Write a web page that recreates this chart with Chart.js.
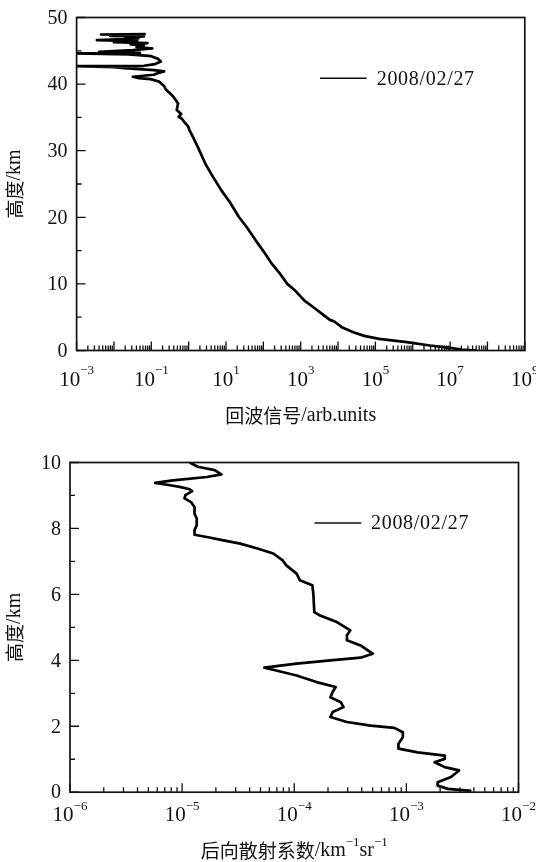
<!DOCTYPE html>
<html>
<head>
<meta charset="utf-8">
<script src="https://cdn.jsdelivr.net/npm/chart.js@4.4.1/dist/chart.umd.min.js"></script>
<style>
	html, body { margin: 0; padding: 0; background: #fff; }
	canvas { display: block; }
</style>
</head>
<body>
<canvas id="echo" width="536" height="431"></canvas>
<canvas id="backscatter" width="536" height="431"></canvas>
<script>
// upper panel: echo signal vs height
const topHeight = [47.5, 47.45, 47.35, 47.25, 47.15, 47.0, 46.85, 46.6, 46.45, 46.3,
	46.15, 45.95, 45.8, 45.6, 45.35, 45.1, 44.85, 44.7, 44.62, 44.45,
	44.2, 43.8, 43.4, 43.0, 42.75, 42.7, 42.55, 42.4, 42.1, 41.9,
	41.6, 41.4, 41.1, 40.9, 40.75, 40.4, 39.7, 39.2, 38.6, 38.1,
	37.6, 37.1, 36.6, 36.1, 35.5, 35.1, 34.8, 34.2, 33.6, 33.1,
	32.0, 30.5, 28.0, 26.0, 24.0, 22.3, 20.0, 18.5, 16.5, 15.0,
	13.0, 11.5, 10.0, 9.0, 7.5, 6.5, 5.5, 4.6, 4.45, 4.35,
	3.5, 2.75, 2.2, 1.75, 1.25, 0.75, 0.4, 0.15, 0.0];
const topSignal = [7.1e-2, 4.5e-3, 5.6e-2, 7.9e-3, 6.3e-2, 2.0e-2, 4.5e-2, 3.5e-3, 4.2e-2, 1.0e-2,
	7.9e-2, 2.8e-2, 6.3e-2, 4.0e-2, 1.07e-1, 3.2e-2, 4.0e-3, 5.0e-2, 6.3e-4, 2.5e-2,
	1.0e-1, 1.5e-1, 1.8e-1, 1.26e-1, 6.3e-2, 6.3e-4, 1.0e-2, 1.9e-2, 1.17e-1, 2.2e-1,
	1.4e-1, 1.17e-1, 3.2e-2, 4.7e-2, 9.5e-2, 1.6e-1, 2.2e-1, 2.45e-1, 3.2e-1, 3.9e-1,
	4.5e-1, 5.2e-1, 5.0e-1, 4.8e-1, 6.3e-1, 5.4e-1, 6.6e-1, 7.9e-1, 9.8e-1, 1.05,
	1.32, 1.78, 2.82, 4.57, 7.6, 12.6, 22.4, 36, 63, 98,
	170, 282, 437, 708, 1260, 2190, 3720, 6030, 7240, 7940,
	12600, 25700, 50100, 126000, 692000, 2.9e6, 1.0e7, 2.0e7, 5.0e7];
const topXTickExps = [-3, -2, -1, 0, 1, 2, 3, 4, 5, 6, 7, 8, 9];
const topXLabelExps = [-3, -1, 1, 3, 5, 7, 9];
const topYTicks = [0, 10, 20, 30, 40, 50];
const topYMinor = [5, 15, 25, 35, 45];

// lower panel: backscatter coefficient vs height
const bottomHeight = [10.0, 9.87, 9.77, 9.64, 9.56, 9.46, 9.38, 9.31, 9.26, 9.19,
	9.13, 9.01, 8.91, 8.8, 8.65, 8.45, 8.3, 8.1, 7.95, 7.81,
	7.74, 7.64, 7.54, 7.39, 7.24, 7.03, 6.88, 6.63, 6.43, 6.28,
	6.02, 5.46, 5.36, 5.16, 4.91, 4.76, 4.61, 4.45, 4.2, 4.08,
	4.0, 3.9, 3.78, 3.69, 3.54, 3.34, 3.19, 3.04, 2.88, 2.73,
	2.58, 2.43, 2.28, 2.13, 2.02, 1.95, 1.82, 1.67, 1.47, 1.32,
	1.21, 1.11, 1.01, 0.91, 0.76, 0.66, 0.46, 0.3, 0.2, 0.1,
	0.04];
const bottomBackscatter = [1.17e-5, 1.38e-5, 1.95e-5, 2.24e-5, 1.66e-5, 8.3e-6, 5.75e-6, 7.8e-6, 9.5e-6, 1.17e-5,
	1.23e-5, 1.07e-5, 1.05e-5, 1.2e-5, 1.29e-5, 1.29e-5, 1.35e-5, 1.35e-5, 1.29e-5, 1.29e-5,
	1.66e-5, 2.34e-5, 3.3e-5, 4.7e-5, 6.5e-5, 7.9e-5, 8.5e-5, 1.05e-4, 1.12e-4, 1.45e-4,
	1.48e-4, 1.51e-4, 1.7e-4, 2.4e-4, 3.16e-4, 2.95e-4, 2.95e-4, 3.9e-4, 5.0e-4, 3.9e-4,
	2.1e-4, 1.05e-4, 5.4e-5, 6.9e-5, 1.05e-4, 1.58e-4, 2.34e-4, 2.2e-4, 2.1e-4, 2.6e-4,
	2.75e-4, 2.2e-4, 2.1e-4, 2.95e-4, 4.8e-4, 7.8e-4, 9.3e-4, 9.3e-4, 8.5e-4, 8.5e-4,
	1.26e-3, 2.2e-3, 2.2e-3, 1.78e-3, 2.2e-3, 2.95e-3, 2.5e-3, 1.9e-3, 1.9e-3, 2.35e-3,
	3.8e-3];
const bottomXTickExps = [-6, -5, -4, -3, -2];
const bottomXLabelExps = [-6, -5, -4, -3, -2];
const bottomYTicks = [0, 2, 4, 6, 8, 10];
const bottomYMinor = [1, 3, 5, 7, 9];

const DATE_LABEL = '2008/02/27';
const INK = '#111';
const LATIN = "'Liberation Serif', 'Times New Roman', serif";
const CJK = "'Noto Sans CJK SC', sans-serif";

// draw a run of text pieces (cjk / latin / superscript) left to right
function drawRuns(ctx, runs, x, y, align) {
	let total = 0;
	runs.forEach(r => {
		ctx.font = r.font;
		r.w = ctx.measureText(r.text).width;
		total += r.w;
	});
	let cx = align === 'center' ? x - total / 2 : (align === 'right' ? x - total : x);
	ctx.textAlign = 'left';
	runs.forEach(r => {
		ctx.font = r.font;
		ctx.fillText(r.text, cx, y - (r.rise || 0));
		cx += r.w;
	});
}

const cjk = t => ({ text: t, font: '19px ' + CJK });
const lat = t => ({ text: t, font: '20px ' + LATIN });
const sup = (t, rise) => ({ text: t, font: '13px ' + LATIN, rise });
const expText = e => (e < 0 ? '\u2212' + (-e) : String(e));

const framePlugin = {
	id: 'frame',
	afterDraw(chart, args, o) {
		const { ctx, chartArea: a } = chart;
		const xs = chart.scales.x, ys = chart.scales.y;
		ctx.save();
		ctx.strokeStyle = INK;
		ctx.fillStyle = INK;

		// inward ticks
		ctx.lineWidth = 1.3;
		ctx.beginPath();
		o.xExps.forEach((e, i) => {
			const px = xs.getPixelForValue(Math.pow(10, e));
			ctx.moveTo(px, a.bottom); ctx.lineTo(px, a.bottom - 9);
			if (i < o.xExps.length - 1) {
				for (let k = 2; k < 10; k++) {
					const m = xs.getPixelForValue(k * Math.pow(10, e));
					ctx.moveTo(m, a.bottom); ctx.lineTo(m, a.bottom - 5);
				}
			}
		});
		o.yMajor.forEach(v => {
			const py = ys.getPixelForValue(v);
			ctx.moveTo(a.left, py); ctx.lineTo(a.left + 9, py);
		});
		o.yMinor.forEach(v => {
			const py = ys.getPixelForValue(v);
			ctx.moveTo(a.left, py); ctx.lineTo(a.left + 5, py);
		});
		ctx.stroke();

		ctx.lineWidth = 1.7;
		ctx.strokeRect(a.left, a.top, a.right - a.left, a.bottom - a.top);

		// x tick labels 10^n
		ctx.textBaseline = 'alphabetic';
		o.xLabels.forEach(e => {
			const px = xs.getPixelForValue(Math.pow(10, e));
			drawRuns(ctx, [{ text: '10', font: '21px ' + LATIN }, sup(expText(e), o.supRise)],
				px, a.bottom + o.xLabelOffset, 'center');
		});

		// y tick labels
		ctx.textBaseline = 'middle';
		ctx.font = '20px ' + LATIN;
		ctx.textAlign = 'right';
		o.yMajor.forEach(v => {
			ctx.fillText(String(v), a.left - 9, ys.getPixelForValue(v) + 1);
		});

		// axis titles
		drawRuns(ctx, o.xTitle, (a.left + a.right) / 2, o.xTitleY, 'center');
		ctx.save();
		ctx.translate(15, (a.top + a.bottom) / 2);
		ctx.rotate(-Math.PI / 2);
		drawRuns(ctx, [cjk('高度'), lat('/km')], 0, 0, 'center');
		ctx.restore();

		// legend
		const lg = o.legend;
		ctx.lineWidth = 1.5;
		ctx.beginPath();
		ctx.moveTo(lg.x1, lg.y); ctx.lineTo(lg.x2, lg.y);
		ctx.stroke();
		ctx.font = '20px ' + LATIN;
		ctx.textAlign = 'left';
		ctx.letterSpacing = '0.7px';
		ctx.fillText(chart.data.datasets[0].label, lg.textX, lg.y + 1);
		ctx.restore();
	}
};

function profileChart(id, values, heights, xMin, xMax, yMax, padding, frame) {
	return new Chart(document.getElementById(id).getContext('2d'), {
		type: 'line',
		data: {
			datasets: [{
				label: DATE_LABEL,
				data: values.map((v, i) => ({ x: v, y: heights[i] })),
				borderColor: '#000',
				borderWidth: 2.7,
				borderJoinStyle: 'round',
				pointRadius: 0,
				tension: 0,
				fill: false
			}]
		},
		options: {
			responsive: false,
			animation: false,
			devicePixelRatio: 1,
			layout: { padding },
			scales: {
				x: { type: 'logarithmic', min: xMin, max: xMax, display: false },
				y: { type: 'linear', min: 0, max: yMax, display: false }
			},
			plugins: {
				legend: { display: false },
				tooltip: { enabled: false },
				frame
			}
		},
		plugins: [framePlugin]
	});
}

profileChart('echo', topSignal, topHeight, 1e-3, 1e9, 50,
	{ left: 76.6, right: 11.2, top: 17.5, bottom: 80.5 },
	{
		xExps: topXTickExps, xLabels: topXLabelExps,
		yMajor: topYTicks, yMinor: topYMinor,
		xLabelOffset: 35.5, supRise: 11.6,
		xTitle: [cjk('回波信号'), lat('/arb.units')], xTitleY: 416,
		legend: { x1: 320, x2: 366.7, y: 78.3, textX: 376.7 }
	});

profileChart('backscatter', bottomBackscatter, bottomHeight, 1e-6, 1e-2, 10,
	{ left: 70, right: 17.5, top: 31.5, bottom: 69.8 },
	{
		xExps: bottomXTickExps, xLabels: bottomXLabelExps,
		yMajor: bottomYTicks, yMinor: bottomYMinor,
		xLabelOffset: 29.1, supRise: 11,
		xTitle: [cjk('后向散射系数'), lat('/km'), sup('\u22121', 8), lat('sr'), sup('\u22121', 8)], xTitleY: 420,
		legend: { x1: 314.5, x2: 361.4, y: 92, textX: 371 }
	});
</script>
</body>
</html>
